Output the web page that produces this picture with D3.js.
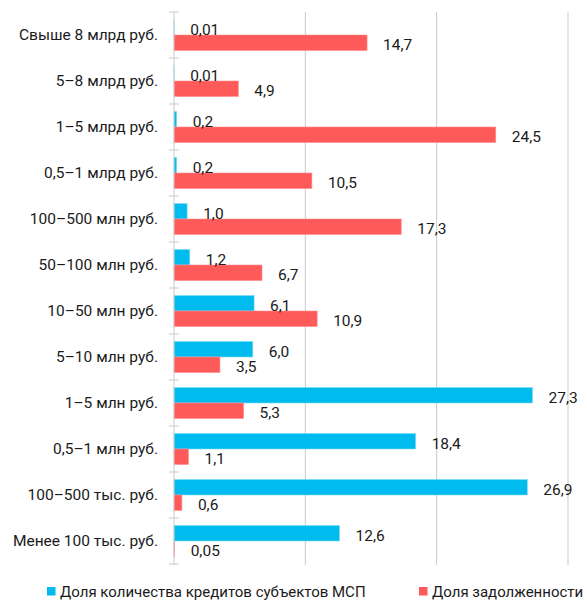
<!DOCTYPE html>
<html>
<head>
<meta charset="utf-8">
<script src="https://cdn.jsdelivr.net/npm/d3@7"></script>
<style>
  body { margin: 0; background: #fff; }
  svg { font-family: Roboto, "Noto Sans", sans-serif; }
</style>
</head>
<body>
<svg width="587" height="601"></svg>
<script>
var categories = ["Свыше 8 млрд руб.", "5–8 млрд руб.", "1–5 млрд руб.", "0,5–1 млрд руб.",
  "100–500 млн руб.", "50–100 млн руб.", "10–50 млн руб.", "5–10 млн руб.",
  "1–5 млн руб.", "0,5–1 млн руб.", "100–500 тыс. руб.", "Менее 100 тыс. руб."];
var seriesNames = ["Доля количества кредитов субъектов МСП", "Доля задолженности"];
var creditsShare = [0.01, 0.01, 0.2, 0.2, 1.0, 1.2, 6.1, 6.0, 27.3, 18.4, 26.9, 12.6];
var debtShare = [14.7, 4.9, 24.5, 10.5, 17.3, 6.7, 10.9, 3.5, 5.3, 1.1, 0.6, 0.05];
var gridTicks = [10, 20, 30];

var colors = ["#00bcee", "#ff5a5a"];
var margin = {top: 12, left: 174, right: 19, bottom: 37},
    width = 587, height = 601,
    fontSize = 15.5;

var svg = d3.select("svg");
var ru = d3.formatLocale({decimal: ",", thousands: " ", grouping: [3], currency: ["", ""]});
var fmt = function(v) { return v < 0.1 ? ru.format(".2f")(v) : ru.format(".1f")(v); };

var x = d3.scaleLinear().domain([0, 30]).range([margin.left, width - margin.right]);
var y0 = d3.scaleBand().domain(categories)
    .range([margin.top, height - margin.bottom])
    .paddingInner(0.326).paddingOuter(0.163);
var y1 = d3.scaleBand().domain([0, 1]).range([0, y0.bandwidth()]);

var rows = categories.map(function(c, i) { return {cat: c, vals: [creditsShare[i], debtShare[i]]}; });

// grid lines
svg.append("g").selectAll("line")
  .data(gridTicks)
  .enter().append("line")
    .attr("x1", function(d) { return x(d); })
    .attr("x2", function(d) { return x(d); })
    .attr("y1", margin.top)
    .attr("y2", height - margin.bottom + 1)
    .attr("stroke", "#c9c9c9")
    .attr("stroke-width", 1);

var g = svg.append("g").selectAll("g")
  .data(rows)
  .enter().append("g")
    .attr("transform", function(d) { return "translate(0," + y0(d.cat) + ")"; });

g.selectAll("rect")
  .data(function(d) { return d.vals; })
  .enter().append("rect")
    .attr("x", x(0))
    .attr("y", function(d, i) { return y1(i); })
    .attr("width", function(d) { return x(d) - x(0); })
    .attr("height", y1.bandwidth())
    .attr("fill", function(d, i) { return colors[i]; })
    .attr("stroke", function(d, i) { return i ? "#ff8c8c" : "#7fd9f5"; })
    .attr("stroke-width", 0.6);

g.selectAll("text")
  .data(function(d) { return d.vals; })
  .enter().append("text")
    .attr("x", function(d) { return x(d) + 16; })
    .attr("y", function(d, i) { return y1(i) + y1.bandwidth() / 2 + 2; })
    .attr("dy", "0.35em")
    .attr("font-size", fontSize)
    .attr("fill", "#1a1a1a")
    .text(fmt);

// category axis
var axis = svg.append("g").attr("transform", "translate(" + x(0) + ",0)");
axis.append("line")
    .attr("y1", margin.top).attr("y2", height - margin.bottom + 1)
    .attr("stroke", "#c9c9c9");
var edges = categories.map(function(c) { return y0(c) - y0.step() * y0.paddingInner() / 2; });
edges.push(height - margin.bottom);
axis.selectAll(".tk")
  .data(edges)
  .enter().append("line")
    .attr("x1", -5).attr("x2", 5)
    .attr("y1", function(d) { return d; }).attr("y2", function(d) { return d; })
    .attr("stroke", "#c9c9c9");
axis.selectAll("text")
  .data(categories)
  .enter().append("text")
    .attr("x", -16)
    .attr("y", function(d) { return y0(d) + y0.bandwidth() / 2; })
    .attr("dy", "0.35em")
    .attr("text-anchor", "end")
    .attr("font-size", fontSize)
    .attr("fill", "#1a1a1a")
    .text(function(d) { return d; });

// legend
var legendX = [47, 419];
var lg = svg.append("g").selectAll("g")
  .data(seriesNames)
  .enter().append("g")
    .attr("transform", function(d, i) { return "translate(" + legendX[i] + ",587)"; });
lg.append("rect").attr("width", 8.5).attr("height", 8.5)
    .attr("fill", function(d, i) { return colors[i]; });
lg.append("text")
    .attr("x", 13).attr("y", 4.5).attr("dy", "0.35em")
    .attr("font-size", 15)
    .attr("fill", "#1a1a1a")
    .text(function(d) { return d; });
</script>
</body>
</html>
